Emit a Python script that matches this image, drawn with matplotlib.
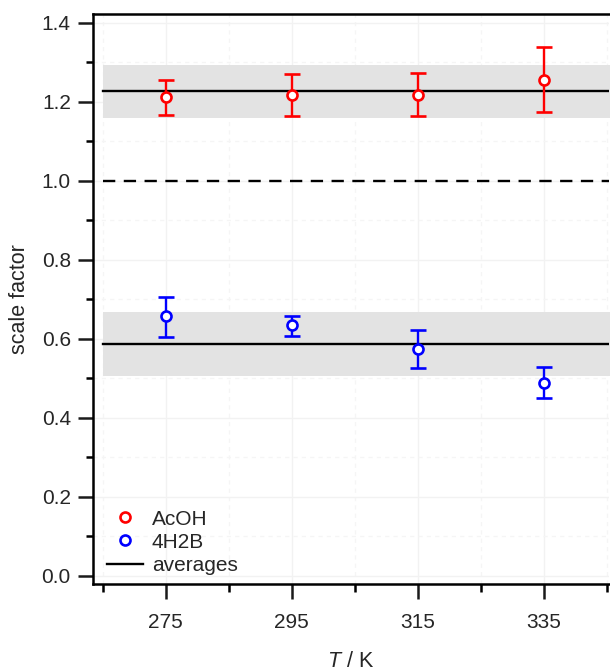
import matplotlib
matplotlib.use("Agg")
import matplotlib.pyplot as plt
from matplotlib.lines import Line2D
from matplotlib.ticker import MultipleLocator, FormatStrFormatter

plt.rcParams['font.family'] = ['Liberation Sans', 'DejaVu Sans']
plt.rcParams['mathtext.fontset'] = 'custom'
plt.rcParams['mathtext.rm'] = 'Liberation Sans'
plt.rcParams['mathtext.it'] = 'Liberation Sans:italic'

# temperatures and fitted scale factors with error limits
T = [275, 295, 315, 335]

acoh = [1.211, 1.217, 1.217, 1.255]
acoh_lo = [1.167, 1.164, 1.164, 1.174]
acoh_hi = [1.255, 1.271, 1.272, 1.338]

h2b = [0.657, 0.634, 0.575, 0.489]
h2b_lo = [0.604, 0.608, 0.526, 0.451]
h2b_hi = [0.707, 0.658, 0.623, 0.528]

# averages with their uncertainty bands
acoh_avg, acoh_band = 1.226, (1.158, 1.293)
h2b_avg, h2b_band = 0.5875, (0.507, 0.669)

fig = plt.figure(figsize=(6.1, 6.71), dpi=100)
ax = fig.add_axes([0.152, 0.1297, 0.847, 0.8495])

xs, xe = 265, 346
for band in (acoh_band, h2b_band):
    ax.fill_between([xs, xe], band[0], band[1], color='#e3e3e3', lw=0, zorder=1)
for avg in (acoh_avg, h2b_avg):
    ax.plot([xs, xe], [avg, avg], color='black', lw=1.7, zorder=2)
ax.plot([xs, xe], [1.0, 1.0], color='black', lw=1.7, dashes=(5.2, 3.6), zorder=2)


def draw_series(y, lo, hi, color):
    err = [[v - l for v, l in zip(y, lo)], [h - v for v, h in zip(y, hi)]]
    ax.errorbar(T, y, yerr=err, fmt='o', color=color, mfc='white', mec=color,
                ms=7.2, mew=1.9, elinewidth=1.7, capsize=5.8, capthick=1.7, zorder=3)


draw_series(acoh, acoh_lo, acoh_hi, '#ff0000')
draw_series(h2b, h2b_lo, h2b_hi, '#0000ff')

ax.set_xlim(263.4, 345.4)
ax.set_ylim(-0.0202, 1.422)

ax.yaxis.set_major_locator(MultipleLocator(0.2))
ax.yaxis.set_minor_locator(MultipleLocator(0.1))
ax.yaxis.set_major_formatter(FormatStrFormatter('%.1f'))
ax.set_xticks([275, 295, 315, 335])
ax.set_xticks([265, 285, 305, 325, 345], minor=True)

ax.grid(which='major', color='#f2f2f2', lw=1, zorder=0)
ax.grid(which='minor', color='#f5f5f5', lw=1, linestyle=(0, (3, 3)), zorder=0)
ax.set_axisbelow(True)

for s in ('left', 'bottom', 'top'):
    ax.spines[s].set_linewidth(1.8)
ax.spines['right'].set_visible(False)

ax.tick_params(which='major', direction='out', length=10.8, width=1.8,
               labelsize=15, colors='#1a1a1a', labelcolor='#262626')
ax.tick_params(which='minor', direction='out', length=5.4, width=1.8)
ax.tick_params(axis='x', which='major', pad=10)
ax.tick_params(axis='y', which='major', pad=5)

ax.set_ylabel('scale factor', fontsize=15.5, labelpad=8, color='#262626')
ax.set_xlabel(r'$\mathit{T}$ / K', fontsize=15.5, labelpad=14, color='#262626')

handles = [
    Line2D([], [], marker='o', ls='none', color='#ff0000', mfc='white', ms=7.2, mew=1.9),
    Line2D([], [], marker='o', ls='none', color='#0000ff', mfc='white', ms=7.2, mew=1.9),
    Line2D([], [], color='black', lw=1.7),
]
leg = ax.legend(handles, ['AcOH', '4H2B', 'averages'], loc='lower left',
                bbox_to_anchor=(0.027, 0.016), frameon=False, fontsize=15,
                borderpad=0, borderaxespad=0, handlelength=1.76, handletextpad=0.4,
                labelspacing=0.2)
for t in leg.get_texts():
    t.set_color('#262626')

fig.savefig('out.png', dpi=100)
